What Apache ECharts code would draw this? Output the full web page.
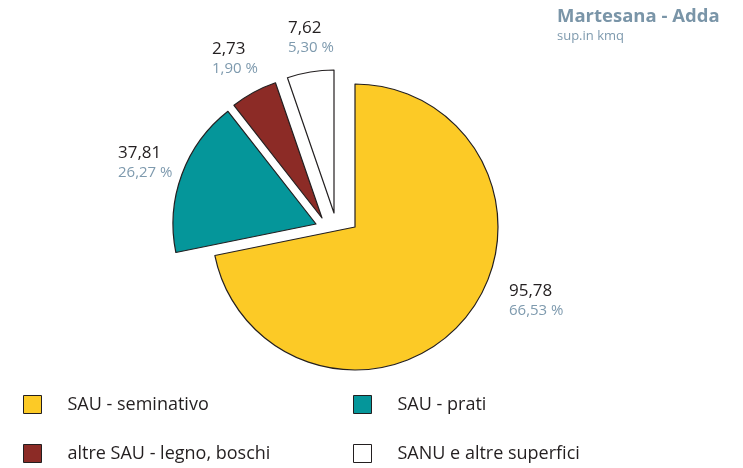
<!DOCTYPE html>
<html>
<head>
<meta charset="utf-8">
<script src="https://cdn.jsdelivr.net/npm/echarts@6/dist/echarts.min.js"></script>
<style>
	html, body { margin: 0; padding: 0; background: #fff; }
	#chart { width: 743px; height: 468px; }
</style>
</head>
<body>
<div id="chart"></div>
<script>
// categories and values as printed on the chart
const categories = [ 'SAU - seminativo', 'SAU - prati', 'altre SAU - legno, boschi', 'SANU e altre superfici' ]
const values = [ '95,78', '37,81', '2,73', '7,62' ]
const percents = [ '66,53 %', '26,27 %', '1,90 %', '5,30 %' ]
// share of the circle each slice takes in the picture (degrees)
const drawnShare = [ 258.5, 63.5, 19, 19 ]

const colors = [ '#fcca26', '#05969a', '#8c2b26', '#ffffff' ]
const stroke = '#231f20'

// each slice is its own pie so it can be pulled out on its own
const centers = [ [ 355, 227 ], [ 316, 224 ], [ 322, 218 ], [ 334, 213 ] ]
const labelAt = [ [ 509, 281 ], [ 118, 143 ], [ 212, 39 ], [ 288, 18 ] ]
const legendAt = [ [ 23, 395 ], [ 353, 395 ], [ 23, 444 ], [ 353, 444 ] ]

const font = '"Open Sans", "Noto Sans", sans-serif'

const chart = echarts.init(document.getElementById('chart'), null, { renderer: 'canvas' })

chart.setOption({
	backgroundColor: '#fff',
	animation: false,
	title: {
		text: 'Martesana - Adda',
		subtext: 'sup.in kmq',
		left: 557,
		top: 7,
		padding: 0,
		itemGap: 4,
		textAlign: 'left',
		textStyle: { fontFamily: font, fontSize: 18.5, fontWeight: 'bold', color: '#7a95a8' },
		subtextStyle: { fontFamily: font, fontSize: 13, color: '#7e9aae' }
	},
	legend: categories.map((name, i) => ({
		left: legendAt[i][0],
		top: legendAt[i][1],
		padding: 0,
		selectedMode: false,
		icon: 'rect',
		itemWidth: 18,
		itemHeight: 18,
		data: [ {
			name,
			itemStyle: { color: colors[i], borderColor: stroke, borderWidth: 1 }
		} ],
		textStyle: { fontFamily: font, fontSize: 18, color: stroke, padding: [ 0, 0, 0, 21 ] }
	})),
	series: categories.map((own, k) => ({
		type: 'pie',
		silent: true,
		center: centers[k],
		radius: 143,
		startAngle: 90,
		clockwise: true,
		avoidLabelOverlap: false,
		emphasis: { disabled: true },
		labelLine: { show: false },
		label: {
			position: 'outside',
			formatter: ({ dataIndex }) => `{v|${values[dataIndex]}}\n{p|${percents[dataIndex]}}`,
			rich: {
				v: { fontFamily: font, fontSize: 17, color: stroke, lineHeight: 20 },
				p: { fontFamily: font, fontSize: 15, color: '#7e9aae', lineHeight: 20 }
			}
		},
		labelLayout: () => ({
			x: labelAt[k][0],
			y: labelAt[k][1],
			align: 'left',
			verticalAlign: 'top'
		}),
		data: categories.map((name, i) => ({
			name,
			value: drawnShare[i],
			itemStyle: i === k
				? { color: colors[i], borderColor: stroke, borderWidth: 1.2 }
				: { color: 'rgba(0,0,0,0)', borderWidth: 0 },
			label: { show: i === k }
		}))
	}))
})
</script>
</body>
</html>
